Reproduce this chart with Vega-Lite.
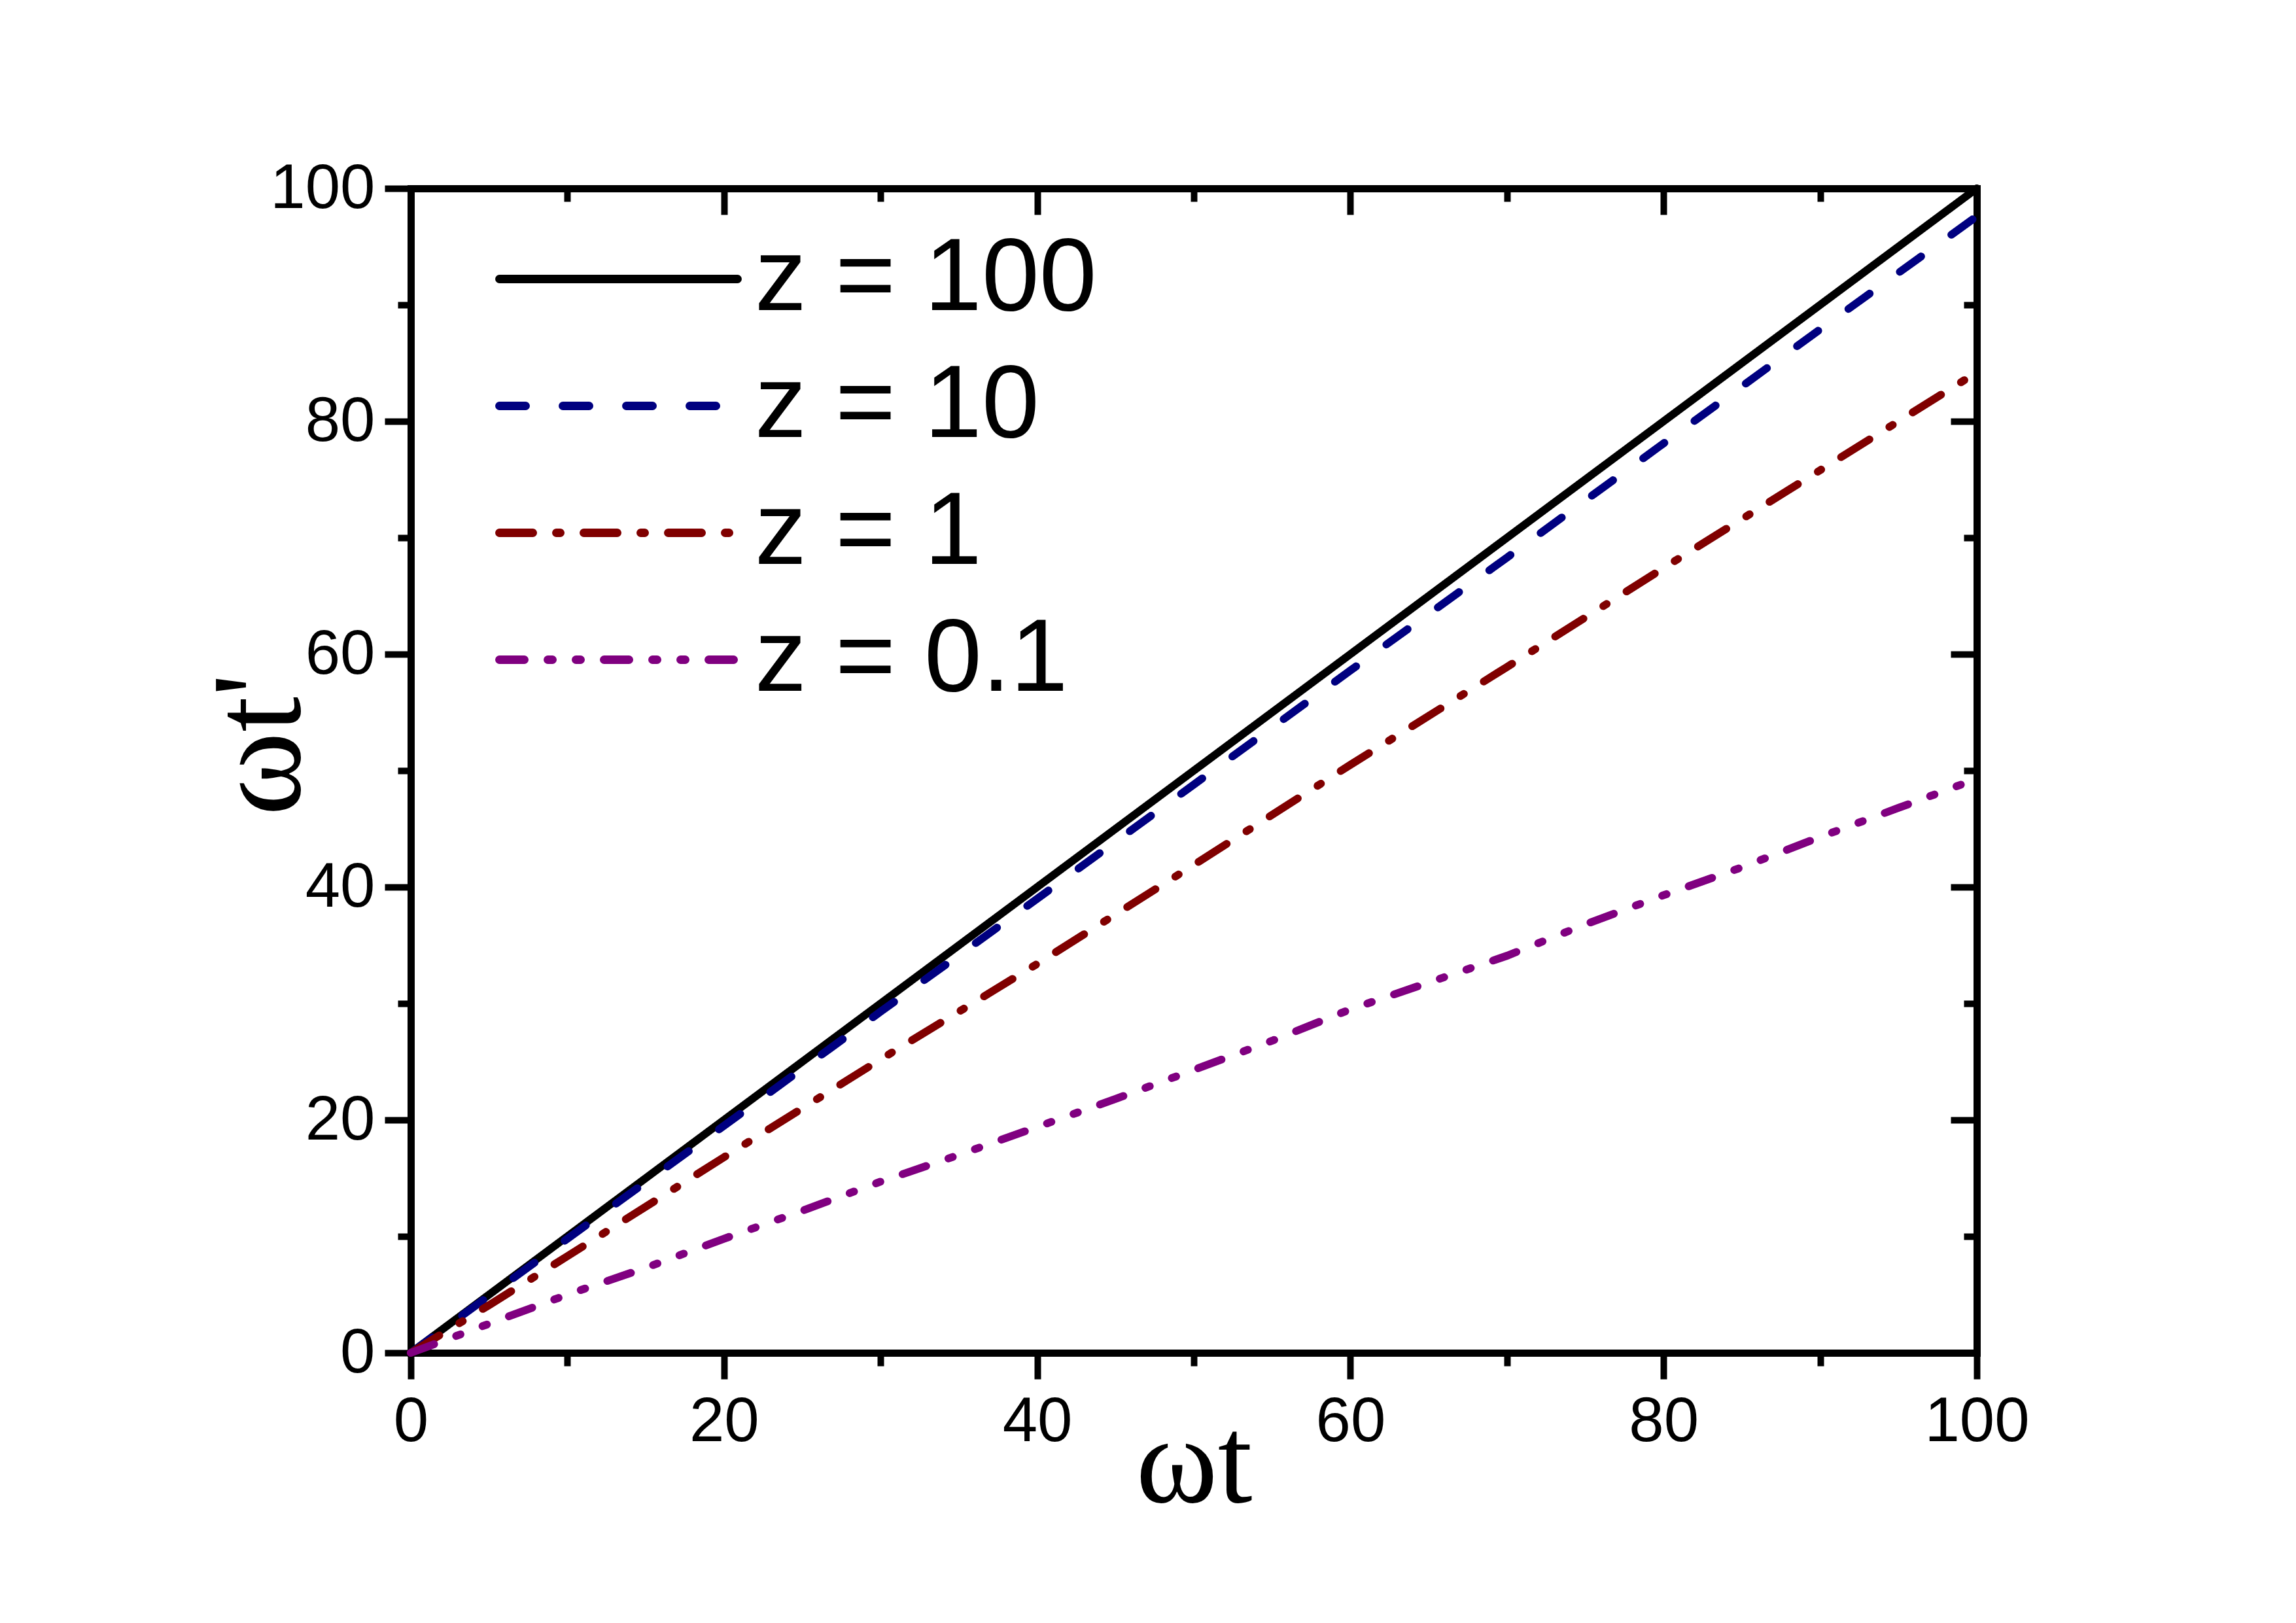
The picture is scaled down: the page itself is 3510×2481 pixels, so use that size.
{
  "$schema": "https://vega.github.io/schema/vega-lite/v6.json",
  "width": 2394,
  "height": 1780,
  "autosize": {"type": "none"},
  "padding": {"left": 628, "top": 288, "right": 488, "bottom": 413},
  "background": "white",
  "config": {
    "view": {"stroke": null},
    "axis": {"grid": false, "domain": true, "domainColor": "black", "domainWidth": 11, "domainCap": "square",
      "tickColor": "black", "tickWidth": 10, "labelColor": "black", "titleColor": "black"}
  },
  "data": {"values": [
    {"wt": 0, "wtp": 0, "z": "z = 100"},
    {"wt": 10, "wtp": 10, "z": "z = 100"},
    {"wt": 20, "wtp": 20, "z": "z = 100"},
    {"wt": 30, "wtp": 30, "z": "z = 100"},
    {"wt": 40, "wtp": 40, "z": "z = 100"},
    {"wt": 50, "wtp": 50, "z": "z = 100"},
    {"wt": 60, "wtp": 60, "z": "z = 100"},
    {"wt": 70, "wtp": 70, "z": "z = 100"},
    {"wt": 80, "wtp": 80, "z": "z = 100"},
    {"wt": 90, "wtp": 90, "z": "z = 100"},
    {"wt": 100, "wtp": 100, "z": "z = 100"},
    {"wt": 0, "wtp": 0, "z": "z = 10"},
    {"wt": 5, "wtp": 4.9, "z": "z = 10"},
    {"wt": 10, "wtp": 9.8, "z": "z = 10"},
    {"wt": 20, "wtp": 19.5, "z": "z = 10"},
    {"wt": 30, "wtp": 29.3, "z": "z = 10"},
    {"wt": 40, "wtp": 39.0, "z": "z = 10"},
    {"wt": 50, "wtp": 48.8, "z": "z = 10"},
    {"wt": 60, "wtp": 58.6, "z": "z = 10"},
    {"wt": 70, "wtp": 68.3, "z": "z = 10"},
    {"wt": 80, "wtp": 78.1, "z": "z = 10"},
    {"wt": 90, "wtp": 87.9, "z": "z = 10"},
    {"wt": 100, "wtp": 97.6, "z": "z = 10"},
    {"wt": 0, "wtp": 0, "z": "z = 1"},
    {"wt": 5, "wtp": 4.1, "z": "z = 1"},
    {"wt": 10, "wtp": 8.3, "z": "z = 1"},
    {"wt": 20, "wtp": 16.8, "z": "z = 1"},
    {"wt": 30, "wtp": 25.2, "z": "z = 1"},
    {"wt": 40, "wtp": 33.4, "z": "z = 1"},
    {"wt": 50, "wtp": 41.9, "z": "z = 1"},
    {"wt": 60, "wtp": 50.5, "z": "z = 1"},
    {"wt": 70, "wtp": 58.9, "z": "z = 1"},
    {"wt": 80, "wtp": 67.4, "z": "z = 1"},
    {"wt": 90, "wtp": 75.8, "z": "z = 1"},
    {"wt": 100, "wtp": 84.2, "z": "z = 1"},
    {"wt": 0, "wtp": 0, "z": "z = 0.1"},
    {"wt": 5, "wtp": 2.5, "z": "z = 0.1"},
    {"wt": 10, "wtp": 5.0, "z": "z = 0.1"},
    {"wt": 15, "wtp": 7.3, "z": "z = 0.1"},
    {"wt": 20, "wtp": 9.8, "z": "z = 0.1"},
    {"wt": 25, "wtp": 12.2, "z": "z = 0.1"},
    {"wt": 30, "wtp": 14.7, "z": "z = 0.1"},
    {"wt": 35, "wtp": 17.0, "z": "z = 0.1"},
    {"wt": 40, "wtp": 19.4, "z": "z = 0.1"},
    {"wt": 45, "wtp": 21.8, "z": "z = 0.1"},
    {"wt": 50, "wtp": 24.3, "z": "z = 0.1"},
    {"wt": 55, "wtp": 26.8, "z": "z = 0.1"},
    {"wt": 60, "wtp": 29.5, "z": "z = 0.1"},
    {"wt": 65, "wtp": 31.8, "z": "z = 0.1"},
    {"wt": 70, "wtp": 34.1, "z": "z = 0.1"},
    {"wt": 75, "wtp": 36.8, "z": "z = 0.1"},
    {"wt": 80, "wtp": 39.3, "z": "z = 0.1"},
    {"wt": 85, "wtp": 41.7, "z": "z = 0.1"},
    {"wt": 90, "wtp": 44.3, "z": "z = 0.1"},
    {"wt": 95, "wtp": 46.8, "z": "z = 0.1"},
    {"wt": 100, "wtp": 49.3, "z": "z = 0.1"}
  ]},
  "layer": [
    {
      "mark": {"type": "line", "strokeWidth": 12, "strokeCap": "round"},
      "encoding": {
        "x": {"field": "wt", "type": "quantitative", "scale": {"domain": [0, 100], "nice": false, "zero": false},
          "axis": {"orient": "bottom", "values": [0,10,20,30,40,50,60,70,80,90,100],
            "labelExpr": "datum.value % 20 === 0 ? datum.label : ''",
            "tickSize": {"condition": {"test": "datum.value % 20 !== 0", "value": 20}, "value": 40},
            "labelFont": "Liberation Sans", "labelFontSize": 96, "labelPadding": 18, "labelFlush": false, "labelOverlap": false,
            "title": "ωt", "titleFont": "Liberation Serif", "titleFontSize": 190, "titleFontWeight": "normal",
            "titleX": 1197, "titleY": 227, "titleBaseline": "alphabetic", "titleAlign": "center"}},
        "y": {"field": "wtp", "type": "quantitative", "scale": {"domain": [0, 100], "nice": false, "zero": false},
          "axis": {"orient": "left", "values": [0,10,20,30,40,50,60,70,80,90,100],
            "labelExpr": "datum.value % 20 === 0 ? datum.label : ''",
            "tickSize": {"condition": {"test": "datum.value % 20 !== 0", "value": 20}, "value": 40},
            "labelFont": "Liberation Sans", "labelFontSize": 96, "labelPadding": 15, "labelFlush": false, "labelOverlap": false,
            "title": "ωt'", "titleFont": "Liberation Serif", "titleFontSize": 195, "titleFontWeight": "normal",
            "titleAngle": 270, "titleX": -171, "titleY": 850, "titleBaseline": "alphabetic", "titleAlign": "center"}},
        "color": {"field": "z", "type": "nominal",
          "scale": {"domain": ["z = 100", "z = 10", "z = 1", "z = 0.1"], "range": ["#000000", "#000080", "#800000", "#800080"]},
          "legend": {"title": null, "orient": "none", "legendX": 203, "legendY": 24,
            "symbolType": "M-1.685,0H1.685", "symbolSize": 46656, "symbolStrokeWidth": 13, "symbolFillColor": "transparent",
            "labelFont": "Liberation Sans", "labelFontSize": 158, "labelColor": "black", "labelOffset": 94, "labelLimit": 0,
            "rowPadding": 0, "padding": 0,
            "encode": {"symbols": {"update": {"strokeCap": {"value": "round"}, "fill": {"value": "transparent"},
              "strokeDash": {"signal": "datum.value === 'z = 10' ? [51,72] : datum.value === 'z = 1' ? [64,41,8,41] : datum.value === 'z = 0.1' ? [46,41,9,40,9,41] : [1,0]"}}}}}},
        "strokeDash": {"field": "z", "type": "nominal",
          "scale": {"domain": ["z = 100", "z = 10", "z = 1", "z = 0.1"], "range": [[1, 0], [40, 57], [51, 36, 6, 36], [38, 36, 7, 36, 7, 36]]},
          "legend": null}
      }
    },
    {
      "mark": {"type": "line", "strokeOpacity": 0},
      "encoding": {
        "x": {"field": "wt", "type": "quantitative",
          "axis": {"orient": "top", "values": [0,10,20,30,40,50,60,70,80,90,100], "labels": false, "title": null,
            "tickSize": {"condition": {"test": "datum.value % 20 !== 0", "value": -20}, "value": -40}}},
        "y": {"field": "wtp", "type": "quantitative",
          "axis": {"orient": "right", "values": [0,10,20,30,40,50,60,70,80,90,100], "labels": false, "title": null,
            "tickSize": {"condition": {"test": "datum.value % 20 !== 0", "value": -20}, "value": -40}}},
        "detail": {"field": "z", "type": "nominal"}
      }
    }
  ]
}
